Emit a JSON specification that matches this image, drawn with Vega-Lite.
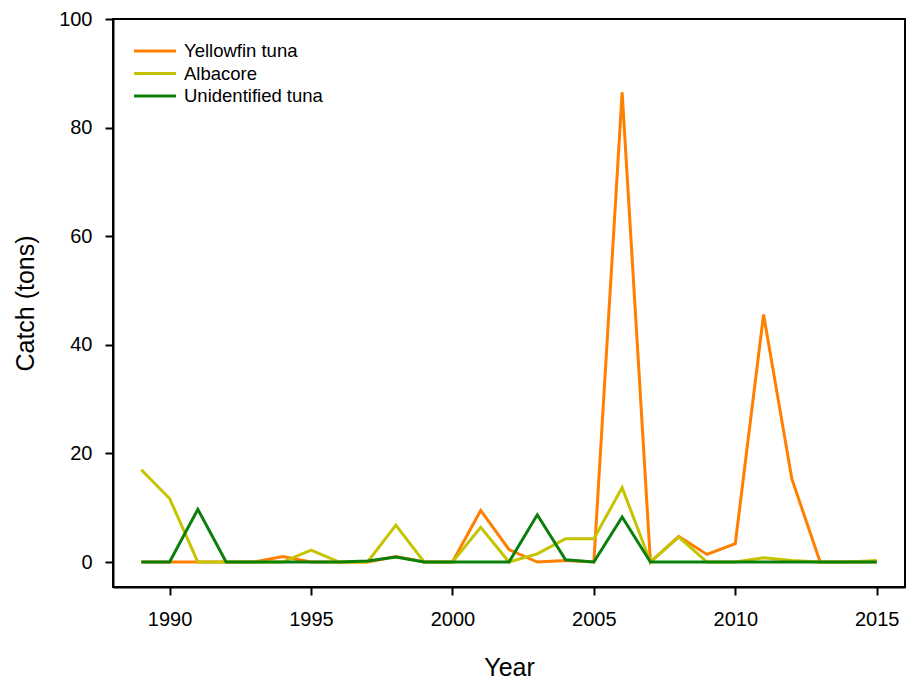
{
  "$schema": "https://vega.github.io/schema/vega-lite/v6.json",
  "width": 792,
  "height": 568,
  "autosize": {"type": "none"},
  "padding": {"left": 113, "top": 19, "right": 1, "bottom": 95},
  "background": "white",
  "config": {
    "font": "Liberation Sans",
    "view": {"stroke": "black", "strokeWidth": 2},
    "axis": {
      "grid": false,
      "domainColor": "black",
      "domainWidth": 2,
      "tickColor": "black",
      "tickWidth": 2,
      "tickSize": 8,
      "labelFont": "Liberation Sans",
      "labelFontSize": 20,
      "labelColor": "black",
      "titleFont": "Liberation Sans",
      "titleFontSize": 25,
      "titleFontWeight": "normal",
      "titleColor": "black"
    }
  },
  "datasets": {
    "catch": [
      {"year": 1989, "species": "Yellowfin tuna", "catch": 0},
      {"year": 1990, "species": "Yellowfin tuna", "catch": 0},
      {"year": 1991, "species": "Yellowfin tuna", "catch": 0},
      {"year": 1992, "species": "Yellowfin tuna", "catch": 0},
      {"year": 1993, "species": "Yellowfin tuna", "catch": 0},
      {"year": 1994, "species": "Yellowfin tuna", "catch": 1.0},
      {"year": 1995, "species": "Yellowfin tuna", "catch": 0},
      {"year": 1996, "species": "Yellowfin tuna", "catch": 0},
      {"year": 1997, "species": "Yellowfin tuna", "catch": 0},
      {"year": 1998, "species": "Yellowfin tuna", "catch": 1.0},
      {"year": 1999, "species": "Yellowfin tuna", "catch": 0},
      {"year": 2000, "species": "Yellowfin tuna", "catch": 0},
      {"year": 2001, "species": "Yellowfin tuna", "catch": 9.5},
      {"year": 2002, "species": "Yellowfin tuna", "catch": 2.3},
      {"year": 2003, "species": "Yellowfin tuna", "catch": 0},
      {"year": 2004, "species": "Yellowfin tuna", "catch": 0.3},
      {"year": 2005, "species": "Yellowfin tuna", "catch": 0},
      {"year": 2006, "species": "Yellowfin tuna", "catch": 86.5},
      {"year": 2007, "species": "Yellowfin tuna", "catch": 0},
      {"year": 2008, "species": "Yellowfin tuna", "catch": 4.7},
      {"year": 2009, "species": "Yellowfin tuna", "catch": 1.4},
      {"year": 2010, "species": "Yellowfin tuna", "catch": 3.4},
      {"year": 2011, "species": "Yellowfin tuna", "catch": 45.6},
      {"year": 2012, "species": "Yellowfin tuna", "catch": 15.3},
      {"year": 2013, "species": "Yellowfin tuna", "catch": 0},
      {"year": 2014, "species": "Yellowfin tuna", "catch": 0},
      {"year": 2015, "species": "Yellowfin tuna", "catch": 0},
      {"year": 1989, "species": "Albacore", "catch": 17.0},
      {"year": 1990, "species": "Albacore", "catch": 11.7},
      {"year": 1991, "species": "Albacore", "catch": 0},
      {"year": 1992, "species": "Albacore", "catch": 0},
      {"year": 1993, "species": "Albacore", "catch": 0},
      {"year": 1994, "species": "Albacore", "catch": 0},
      {"year": 1995, "species": "Albacore", "catch": 2.2},
      {"year": 1996, "species": "Albacore", "catch": 0},
      {"year": 1997, "species": "Albacore", "catch": 0},
      {"year": 1998, "species": "Albacore", "catch": 6.8},
      {"year": 1999, "species": "Albacore", "catch": 0},
      {"year": 2000, "species": "Albacore", "catch": 0},
      {"year": 2001, "species": "Albacore", "catch": 6.4},
      {"year": 2002, "species": "Albacore", "catch": 0},
      {"year": 2003, "species": "Albacore", "catch": 1.5},
      {"year": 2004, "species": "Albacore", "catch": 4.3},
      {"year": 2005, "species": "Albacore", "catch": 4.3},
      {"year": 2006, "species": "Albacore", "catch": 13.7},
      {"year": 2007, "species": "Albacore", "catch": 0},
      {"year": 2008, "species": "Albacore", "catch": 4.6},
      {"year": 2009, "species": "Albacore", "catch": 0},
      {"year": 2010, "species": "Albacore", "catch": 0},
      {"year": 2011, "species": "Albacore", "catch": 0.8},
      {"year": 2012, "species": "Albacore", "catch": 0.3},
      {"year": 2013, "species": "Albacore", "catch": 0},
      {"year": 2014, "species": "Albacore", "catch": 0},
      {"year": 2015, "species": "Albacore", "catch": 0.3},
      {"year": 1989, "species": "Unidentified tuna", "catch": 0},
      {"year": 1990, "species": "Unidentified tuna", "catch": 0},
      {"year": 1991, "species": "Unidentified tuna", "catch": 9.7},
      {"year": 1992, "species": "Unidentified tuna", "catch": 0},
      {"year": 1993, "species": "Unidentified tuna", "catch": 0},
      {"year": 1994, "species": "Unidentified tuna", "catch": 0},
      {"year": 1995, "species": "Unidentified tuna", "catch": 0},
      {"year": 1996, "species": "Unidentified tuna", "catch": 0},
      {"year": 1997, "species": "Unidentified tuna", "catch": 0.2},
      {"year": 1998, "species": "Unidentified tuna", "catch": 0.9},
      {"year": 1999, "species": "Unidentified tuna", "catch": 0},
      {"year": 2000, "species": "Unidentified tuna", "catch": 0},
      {"year": 2001, "species": "Unidentified tuna", "catch": 0},
      {"year": 2002, "species": "Unidentified tuna", "catch": 0},
      {"year": 2003, "species": "Unidentified tuna", "catch": 8.7},
      {"year": 2004, "species": "Unidentified tuna", "catch": 0.4},
      {"year": 2005, "species": "Unidentified tuna", "catch": 0},
      {"year": 2006, "species": "Unidentified tuna", "catch": 8.3},
      {"year": 2007, "species": "Unidentified tuna", "catch": 0},
      {"year": 2008, "species": "Unidentified tuna", "catch": 0},
      {"year": 2009, "species": "Unidentified tuna", "catch": 0},
      {"year": 2010, "species": "Unidentified tuna", "catch": 0},
      {"year": 2011, "species": "Unidentified tuna", "catch": 0},
      {"year": 2012, "species": "Unidentified tuna", "catch": 0},
      {"year": 2013, "species": "Unidentified tuna", "catch": 0},
      {"year": 2014, "species": "Unidentified tuna", "catch": 0},
      {"year": 2015, "species": "Unidentified tuna", "catch": 0}
    ]
  },
  "data": {"name": "catch"},
  "mark": {"type": "line", "strokeWidth": 3, "clip": true},
  "encoding": {
    "x": {
      "field": "year",
      "type": "quantitative",
      "scale": {"domain": [1988, 2016], "nice": false, "zero": false},
      "axis": {
        "values": [1990, 1995, 2000, 2005, 2010, 2015],
        "format": "d",
        "title": "Year",
        "labelPadding": 14,
        "titleBaseline": "alphabetic",
        "titleY": 88
      }
    },
    "y": {
      "field": "catch",
      "type": "quantitative",
      "scale": {"domain": [-4.6, 100], "nice": false, "zero": false},
      "axis": {
        "values": [0, 20, 40, 60, 80, 100],
        "title": "Catch (tons)",
        "labelPadding": 13,
        "titleBaseline": "alphabetic",
        "titleAngle": -90,
        "titleX": -80,
        "titleY": 284
      }
    },
    "color": {
      "field": "species",
      "type": "nominal",
      "scale": {
        "domain": ["Yellowfin tuna", "Albacore", "Unidentified tuna"],
        "range": ["#FF7F00", "#C4C400", "#0A800A"]
      },
      "legend": {
        "title": null,
        "orient": "none",
        "legendX": 30,
        "legendY": 20,
        "padding": 0,
        "symbolType": "M-2,0H2",
        "symbolSize": 441,
        "symbolStrokeWidth": 3,
        "labelFontSize": 18.5,
        "labelFont": "Liberation Sans",
        "labelColor": "black",
        "labelOffset": 17,
        "rowPadding": 0.5
      }
    }
  }
}
